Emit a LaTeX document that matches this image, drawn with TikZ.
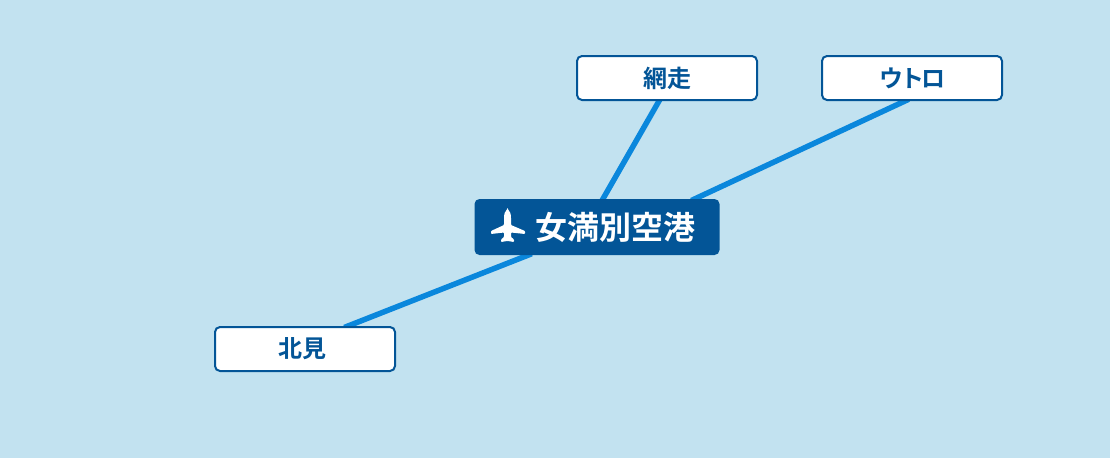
\documentclass[tikz,border=0pt]{standalone}
\usepackage{fontspec}
\setmainfont{Noto Sans CJK JP}[BoldFont={* Bold}]
\usetikzlibrary{backgrounds}
\definecolor{seablue}{HTML}{C2E2F0}
\definecolor{routeblue}{HTML}{0A87DC}
\definecolor{hubblue}{HTML}{035597}

\begin{document}
\begin{tikzpicture}[x=1pt,y=-1pt,
  town/.style={rectangle,draw=hubblue,line width=2pt,fill=white,rounded corners=5pt,text=hubblue,inner sep=0pt,minimum width=180pt,minimum height=44pt,font=\bfseries\fontsize{24}{24}\selectfont},
  hub/.style={rectangle,fill=hubblue,rounded corners=5pt,text=white,inner sep=0pt,minimum width=245pt,minimum height=56pt,font=\bfseries\fontsize{32}{32}\selectfont},
  route/.style={draw=routeblue,line width=5.5pt,shorten <=-4pt,shorten >=-4pt}]
\useasboundingbox (0,0) rectangle (1110,458);

\node[hub] at (597,227)	(airport) {\hspace*{37pt}女満別空港};
\node[town] at (667,78)	(abashiri) {網走\hspace*{-1pt}};
\node[town] at (912,78)	(utoro) {ウ\kern-3ptト\kern-3ptロ\hspace*{-1pt}};
\node[town] at (305,349)(kitami) {北見\hspace*{6pt}};

% plane icon
\fill[white,rounded corners=0.8pt] (507.5,209) .. controls (510,211) and (511,214) .. (511,219) -- (511,225) -- (525,231) -- (525,234) -- (511,232.5) -- (511,237) -- (514,239.5) -- (514,242) -- (508,241) -- (507,241) -- (501,242) -- (501,239.5) -- (504,237) -- (504,232.5) -- (491,234) -- (491,231) -- (504,225) -- (504,219) .. controls (504,214) and (505,211) .. (507.5,209) -- cycle;

\begin{pgfonlayer}{background}
\fill[seablue] (0,0) rectangle (1110,458);
\draw[route] ([xshift=-8pt]abashiri.south) -- ([xshift=6pt]airport.north);
\draw[route] ([xshift=-7pt]utoro.south) -- ([xshift=98pt]airport.north);
\draw[route] ([xshift=43pt]kitami.north) -- ([xshift=-69pt]airport.south);
\end{pgfonlayer}
\end{tikzpicture}
\end{document}
